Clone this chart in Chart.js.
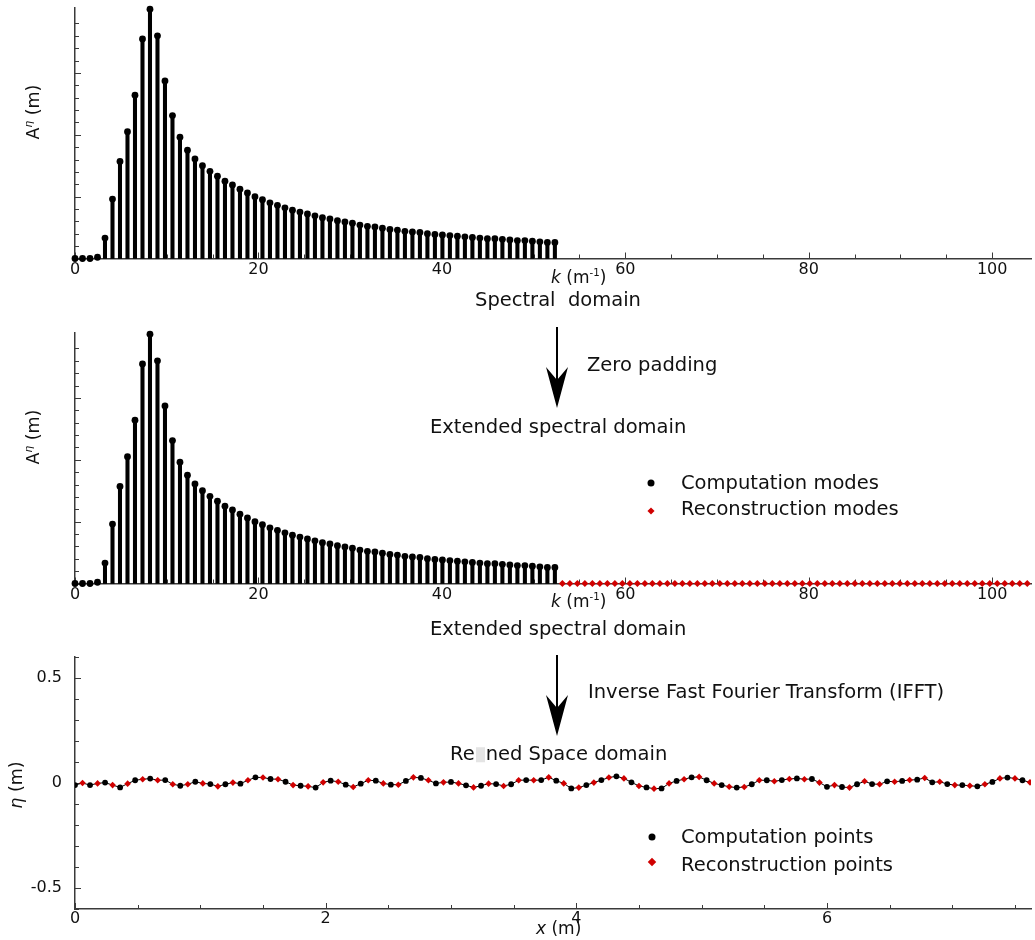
<!DOCTYPE html>
<html>
<head>
<meta charset="utf-8">
<title>zero padding</title>
<script src="https://cdn.jsdelivr.net/npm/chart.js"></script>
<style>
  body { margin: 0; background: #fff; }
  #page { position: relative; width: 1035px; height: 940px; overflow: hidden; font-family: "DejaVu Sans", sans-serif; color: #111; }
  canvas { position: absolute; left: 0; }
  .txt { position: absolute; white-space: pre; font-size: 19.5px; line-height: 1; transform: translateY(-50%); }
  .axt { position: absolute; white-space: pre; font-size: 17px; line-height: 1; transform: translateY(-50%); }
  .ylab { position: absolute; white-space: pre; font-size: 17.5px; line-height: 1; transform: translate(-50%, -50%) rotate(-90deg); }
  .dot { position: absolute; width: 7px; height: 7px; border-radius: 50%; background: #000; transform: translate(-50%, -50%); }
  .dia { position: absolute; width: 5px; height: 5px; background: #d00000; transform: translate(-50%, -50%) rotate(45deg); }
  sup { font-size: 60%; }
  .gap { display: inline-block; width: 9px; height: 15px; background: #e4e4e4; vertical-align: -2px; margin: 0 1px; }
</style>
</head>
<body>
<div id="page">
  <canvas id="c1" width="1035" height="300" style="top:0"></canvas>
  <canvas id="c2" width="1035" height="300" style="top:320px"></canvas>
  <canvas id="c3" width="1035" height="295" style="top:645px"></canvas>

  <svg width="1035" height="940" style="position:absolute;left:0;top:0">
    <line x1="557" y1="327" x2="557" y2="390" stroke="#000" stroke-width="2"/>
    <polygon points="546,367 557,380 568,367 557,408" fill="#000"/>
    <line x1="557" y1="655" x2="557" y2="718" stroke="#000" stroke-width="2"/>
    <polygon points="546,695 557,708 568,695 557,736" fill="#000"/>
  </svg>

  <div class="ylab" style="left:33px;top:112px">A<sup><i>η</i></sup> (m)</div>
  <div class="axt" style="left:551px;top:277px"><i>k</i> (m<sup>-1</sup>)</div>
  <div class="txt" style="left:475px;top:300px">Spectral  domain</div>

  <div class="txt" style="left:587px;top:365px">Zero padding</div>
  <div class="txt" style="left:430px;top:427px">Extended spectral domain</div>
  <div class="dot" style="left:651px;top:483px"></div>
  <div class="txt" style="left:681px;top:483px">Computation modes</div>
  <div class="dia" style="left:651px;top:511px"></div>
  <div class="txt" style="left:681px;top:509px">Reconstruction modes</div>

  <div class="ylab" style="left:33px;top:437px">A<sup><i>η</i></sup> (m)</div>
  <div class="axt" style="left:551px;top:601px"><i>k</i> (m<sup>-1</sup>)</div>
  <div class="txt" style="left:430px;top:629px">Extended spectral domain</div>

  <div class="txt" style="left:588px;top:692px">Inverse Fast Fourier Transform (IFFT)</div>
  <div class="txt" style="left:450px;top:754px">Re<span class="gap"></span>ned Space domain</div>
  <div class="dot" style="left:652px;top:837px"></div>
  <div class="txt" style="left:681px;top:837px">Computation points</div>
  <div class="dia" style="left:652px;top:862px;width:6px;height:6px"></div>
  <div class="txt" style="left:681px;top:865px">Reconstruction points</div>

  <div class="ylab" style="left:17px;top:785px"><i>η</i> (m)</div>
  <div class="axt" style="left:536px;top:928px"><i>x</i> (m)</div>
</div>

<script>
// spectral amplitudes of the computation modes (units of one major y tick)
const compAmp = [0, 0, 0, 0.02, 0.33, 0.96, 1.57, 2.05, 2.64, 3.55,
    4.03, 3.60, 2.87, 2.31, 1.96, 1.75, 1.61, 1.50, 1.41, 1.33,
    1.25, 1.19, 1.12, 1.06, 1.00, 0.95, 0.90, 0.86, 0.82, 0.78,
    0.75, 0.72, 0.69, 0.66, 0.64, 0.61, 0.59, 0.57, 0.54, 0.52,
    0.51, 0.49, 0.47, 0.46, 0.44, 0.43, 0.42, 0.40, 0.39, 0.38,
    0.37, 0.36, 0.35, 0.34, 0.33, 0.32, 0.32, 0.31, 0.30, 0.29,
    0.29, 0.28, 0.27, 0.26, 0.26];
// zero padded modes (index 65 .. 127)
const padAmp = [0, 0, 0, 0, 0, 0, 0, 0, 0, 0, 0, 0, 0, 0, 0, 0, 0, 0, 0, 0, 0,
    0, 0, 0, 0, 0, 0, 0, 0, 0, 0, 0, 0, 0, 0, 0, 0, 0, 0, 0, 0, 0,
    0, 0, 0, 0, 0, 0, 0, 0, 0, 0, 0, 0, 0, 0, 0, 0, 0, 0, 0, 0, 0];
// free surface elevation, computation points (even) and reconstruction points (odd)
const etaComp = [-0.010, -0.010, 0.002, -0.021, 0.013, 0.021, 0.014, -0.013, 0.006, -0.005,
    -0.006, -0.003, 0.027, 0.019, 0.006, -0.013, -0.022, 0.011, -0.008, -0.003,
    0.011, -0.008, 0.010, 0.024, -0.002, 0.005, -0.011, -0.013, -0.005, -0.006,
    0.014, 0.014, 0.011, -0.026, -0.010, 0.014, 0.032, 0.003, -0.021, -0.026,
    0.010, 0.027, 0.013, -0.010, -0.022, -0.006, 0.013, 0.014, 0.022, 0.019,
    -0.018, -0.019, -0.006, -0.005, 0.008, 0.010, 0.016, 0.003, -0.005, -0.010,
    -0.016, 0.005, 0.026, 0.013];
const etaRecon = [0.000, -0.002, -0.010, -0.003, 0.018, 0.013, -0.006, -0.006, -0.002, -0.016,
    0.002, 0.013, 0.026, 0.018, -0.010, -0.016, 0.003, 0.006, -0.019, 0.013,
    -0.002, -0.008, 0.027, 0.013, 0.003, -0.002, -0.021, -0.003, -0.014, 0.013,
    0.013, 0.027, -0.002, -0.022, 0.002, 0.026, 0.022, -0.014, -0.027, -0.002,
    0.018, 0.029, -0.002, -0.018, -0.019, 0.013, 0.008, 0.019, 0.018, 0.002,
    -0.010, -0.022, 0.008, -0.006, 0.006, 0.014, 0.024, 0.006, -0.010, -0.013,
    -0.006, 0.022, 0.022, 0.003];

const dk = 0.8175;   // wavenumber step (m^-1)
const dx = 0.06;     // spatial step (m)
const kTickLabels = [0, 20, 40, 60, 80, 100];
const xTickLabels = [0, 2, 4, 6];
const etaTickLabels = [-0.5, 0, 0.5];

Chart.defaults.font.family = 'DejaVu Sans';
Chart.defaults.color = '#111';

function near(v, list) {
    return list.some(t => Math.abs(t - v) < 1e-6);
}
function onStep(v, step) {
    return Math.abs(v / step - Math.round(v / step)) < 1e-6;
}

// tick marks drawn inside the plot, like the original
const innerTicks = {
    id: 'innerTicks',
    beforeDatasetsDraw(chart, args, o) {
        const ctx = chart.ctx, xs = chart.scales.x, ys = chart.scales.y;
        ctx.save();
        ctx.strokeStyle = '#3a3a3a';
        ctx.lineWidth = 1;
        ctx.beginPath();
        xs.ticks.forEach(t => {
            if (!onStep(t.value, o.xMinor)) return;
            const len = near(t.value, o.xMajor) ? 6 : 4;
            const px = Math.round(xs.getPixelForValue(t.value)) + 0.5;
            ctx.moveTo(px, ys.bottom);
            ctx.lineTo(px, ys.bottom - len);
        });
        ys.ticks.forEach(t => {
            if (!onStep(t.value, o.yMinor)) return;
            const len = onStep(t.value, o.yMajor) ? 6 : 4;
            const py = Math.round(ys.getPixelForValue(t.value)) + 0.5;
            ctx.moveTo(xs.left, py);
            ctx.lineTo(xs.left + len, py);
        });
        ctx.stroke();
        ctx.restore();
    }
};

// fixed axis boxes so the plot areas sit where they do in the figure
function fixX(h) {
    return s => { s.height = h; s.paddingLeft = 0; s.paddingRight = 0; };
}
function fixY(s) {
    s.width = 75; s.paddingTop = 0; s.paddingBottom = 0;
}

function kScale(axisH) {
    return {
        type: 'linear', min: 0, max: 104.23, offset: false,
        grid: { display: false, drawTicks: false, offset: false },
        border: { color: '#3a3a3a', width: 1.5 },
        ticks: {
            stepSize: 5, autoSkip: false, maxRotation: 0, padding: 2, includeBounds: false,
            font: { size: 16 },
            callback: v => near(v, kTickLabels) ? String(Math.round(v)) : ''
        },
        afterFit: fixX(axisH)
    };
}
function ampScale() {
    return {
        min: 0, max: 4.05,
        grid: { display: false, drawTicks: false },
        border: { color: '#3a3a3a', width: 1.5 },
        ticks: { display: false, stepSize: 0.2 },
        afterFit: fixY
    };
}

function spectrumChart(id, top, axisH, withPad) {
    const datasets = [
        {
            type: 'bar', order: 2,
            data: compAmp.map((a, i) => ({ x: i * dk, y: a })),
            backgroundColor: '#000', borderWidth: 0, barThickness: 3.4, clip: false
        },
        {
            type: 'scatter', order: 1,
            data: compAmp.map((a, i) => ({ x: i * dk, y: a })),
            pointRadius: 3.4, pointBackgroundColor: '#000', pointBorderWidth: 0, clip: false
        }
    ];
    if (withPad) {
        datasets.push({
            type: 'scatter', order: 0,
            data: padAmp.map((a, i) => ({ x: (i + compAmp.length) * dk, y: a })),
            pointStyle: 'rectRot', pointRadius: 3.5,
            pointBackgroundColor: '#d00000', pointBorderWidth: 0, clip: false
        });
    }
    return new Chart(document.getElementById(id), {
        type: 'bar',
        data: { datasets: datasets },
        options: {
            responsive: false, animation: false, devicePixelRatio: 1,
            layout: { padding: { top: top, left: 0, right: 0, bottom: 0 } },
            plugins: { legend: { display: false }, tooltip: { enabled: false },
                innerTicks: { xMinor: 5, xMajor: kTickLabels, yMinor: 0.2, yMajor: 1 } },
            scales: { x: kScale(axisH), y: ampScale() }
        },
        plugins: [innerTicks]
    });
}

spectrumChart('c1', 8, 41.5, false);
spectrumChart('c2', 13, 36.5, true);

// space domain
const etaAll = [];
etaComp.forEach((e, i) => {
    etaAll.push({ x: 2 * i * dx, y: e });
    etaAll.push({ x: (2 * i + 1) * dx, y: etaRecon[i] });
});

new Chart(document.getElementById('c3'), {
    type: 'scatter',
    data: {
        datasets: [
            {
                order: 2, showLine: true, data: etaAll,
                borderColor: '#000', borderWidth: 1, pointRadius: 0
            },
            {
                order: 1, data: etaComp.map((e, i) => ({ x: 2 * i * dx, y: e })),
                pointRadius: 2.9, pointBackgroundColor: '#000', pointBorderWidth: 0
            },
            {
                order: 0, data: etaRecon.map((e, i) => ({ x: (2 * i + 1) * dx, y: e })),
                pointStyle: 'rectRot', pointRadius: 3.3,
                pointBackgroundColor: '#d00000', pointBorderWidth: 0
            }
        ]
    },
    options: {
        responsive: false, animation: false, devicePixelRatio: 1,
        layout: { padding: { top: 12, left: 0, right: 0, bottom: 0 } },
        plugins: { legend: { display: false }, tooltip: { enabled: false },
            innerTicks: { xMinor: 0.5, xMajor: xTickLabels, yMinor: 0.1, yMajor: 0.5 } },
        scales: {
            x: {
                min: 0, max: 7.628,
                grid: { display: false, drawTicks: false },
                border: { color: '#3a3a3a', width: 1.5 },
                ticks: {
                    stepSize: 0.5, autoSkip: false, maxRotation: 0, padding: 0, includeBounds: false,
                    font: { size: 16 },
                    callback: v => near(v, xTickLabels) ? String(Math.round(v)) : ''
                },
                afterFit: fixX(31)
            },
            y: {
                min: -0.6, max: 0.6,
                grid: { display: false, drawTicks: false },
                border: { color: '#3a3a3a', width: 1.5 },
                ticks: {
                    stepSize: 0.1, autoSkip: false, padding: 13,
                    font: { size: 16 },
                    callback: v => {
                        if (!near(v, etaTickLabels)) return '';
                        return Math.abs(v) < 1e-9 ? '0' : String(Math.round(v * 10) / 10);
                    }
                },
                afterFit: fixY
            }
        }
    },
    plugins: [innerTicks]
});
</script>
</body>
</html>
